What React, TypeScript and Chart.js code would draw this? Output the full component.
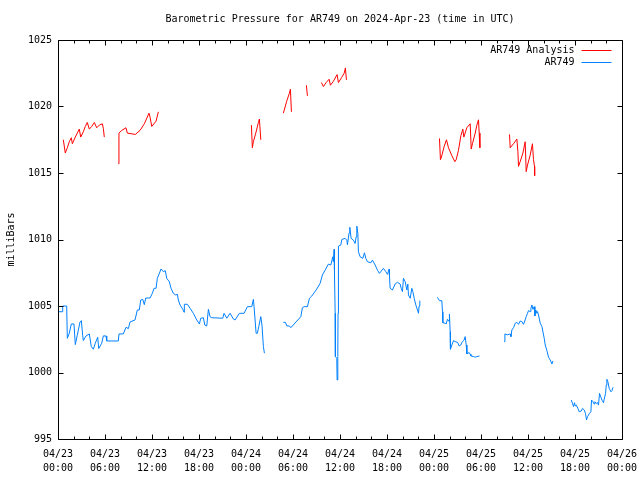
import React, { useEffect, useRef } from 'react';
import { Chart, registerables } from 'chart.js';

Chart.register(...registerables);

const TITLE = 'Barometric Pressure for AR749 on 2024-Apr-23 (time in UTC)';
const Y_LABEL = 'milliBars';
const SERIES_NAMES = ['AR749 Analysis', 'AR749'];
const SERIES_COLORS = ['#ff0000', '#0080ff'];

const X_TICK_DATES = ['04/23', '04/23', '04/23', '04/23', '04/24', '04/24', '04/24', '04/24', '04/25', '04/25', '04/25', '04/25', '04/26'];
const X_TICK_TIMES = ['00:00', '06:00', '12:00', '18:00', '00:00', '06:00', '12:00', '18:00', '00:00', '06:00', '12:00', '18:00', '00:00'];
const Y_TICKS = [995, 1000, 1005, 1010, 1015, 1020, 1025];

// hours since 2024-04-23 00:00 UTC, one inner array per unbroken run
const analysisHours = [
  [0.68, 0.93, 1.19, 1.44, 1.70, 1.83, 2.21, 2.46, 2.72, 2.90, 3.23, 3.49, 3.74, 4.0, 4.30, 4.64, 4.94, 5.27, 5.66, 5.79, 5.91],
  [7.70, 7.78, 8.14, 8.68, 8.85, 9.87, 10.47, 11.02, 11.62, 11.75, 11.97, 12.52, 12.81],
  [24.69, 24.81, 24.94, 25.25, 25.58, 25.71, 25.89],
  [28.77, 29.2, 29.54, 29.67, 29.8],
  [31.71, 31.84],
  [33.63, 33.88, 34.23, 34.61, 34.78, 35.16, 35.63, 35.80, 36.23, 36.53, 36.69, 36.82],
  [48.70, 48.82, 48.95, 49.3, 49.59, 49.85, 50.28, 50.66, 50.83, 51.12, 51.43, 51.68, 51.81, 52.19, 52.62, 52.75, 52.91, 53.26, 53.47, 53.68, 53.77, 53.86],
  [57.64, 57.73, 58.15, 58.58, 58.71, 58.79, 59.0, 59.35, 59.64, 59.77, 59.94, 60.28, 60.57, 60.70, 60.83, 60.85],
];
const analysisValues = [
  [1017.5, 1016.5, 1016.9, 1017.35, 1017.65, 1017.2, 1017.7, 1018.0, 1018.3, 1017.7, 1018.1, 1018.5, 1018.8, 1018.3, 1018.5, 1018.8, 1018.4, 1018.6, 1018.7, 1018.35, 1017.7],
  [1015.7, 1018.0, 1018.2, 1018.4, 1018.0, 1017.9, 1018.2, 1018.7, 1019.5, 1019.2, 1018.5, 1018.9, 1019.6],
  [1018.6, 1016.9, 1017.35, 1018.0, 1018.8, 1019.06, 1017.5],
  [1019.5, 1020.4, 1021.0, 1021.3, 1019.6],
  [1021.6, 1020.8],
  [1021.8, 1021.5, 1021.8, 1022.05, 1021.6, 1021.9, 1022.4, 1021.8, 1022.2, 1022.5, 1022.9, 1022.0],
  [1017.6, 1016.0, 1016.2, 1017.0, 1017.5, 1016.9, 1016.3, 1015.85, 1016.0, 1016.7, 1017.8, 1018.3, 1017.7, 1018.4, 1018.7, 1016.8, 1017.2, 1018.0, 1018.6, 1019.0, 1018.0, 1016.9],
  [1017.9, 1016.9, 1017.2, 1017.55, 1016.6, 1015.5, 1015.85, 1016.5, 1017.35, 1015.1, 1015.6, 1016.35, 1017.2, 1016.0, 1015.5, 1014.8],
];

const ar749Hours = [
  [0.04, 0.6, 0.6, 1.11, 1.19, 1.44, 1.70, 2.04, 2.21, 2.46, 2.81, 2.98, 3.15, 3.23, 3.58, 4.0, 4.25, 4.51, 4.76, 5.07, 5.2, 5.58, 5.79, 6.13, 6.22, 7.70, 7.79, 8.34, 8.68, 8.98, 9.20, 9.83, 10.13, 10.38, 10.56, 10.82, 11.02, 11.2, 11.75, 12.04, 12.26, 12.52, 12.68, 12.9, 13.15, 13.45, 13.70, 13.88, 14.21, 14.43, 14.73, 15.03, 15.24, 15.36, 15.58, 15.93, 16.09, 16.13, 16.51, 16.86, 17.28, 17.71, 18.05, 18.22, 18.56, 18.74, 18.99, 19.2, 19.41, 19.63, 21.03, 21.2, 21.55, 21.97, 22.39, 22.61, 23.15, 23.75, 24.18, 24.74, 24.94, 25.03, 25.29, 25.45, 25.63, 25.89, 26.05, 26.22, 26.35],
  [28.77, 29.03, 29.21, 29.54, 29.72, 31.0, 31.2, 31.42, 31.84, 32.1, 32.4, 33.04, 33.46, 33.75, 34.1, 34.52, 34.83, 35.08, 35.16, 35.25, 35.29, 35.38, 35.41, 35.59, 35.63, 35.72, 35.75, 35.8, 36.1, 36.23, 36.65, 36.87, 36.95, 37.16, 37.25, 37.42, 37.71, 37.93, 38.06, 38.15, 38.28, 38.35, 38.57, 38.91, 39.12, 39.3, 39.5, 39.94, 40.14, 40.49, 40.78, 41.03, 41.54, 41.85, 42.06, 42.27, 42.31, 42.4, 42.69, 43.04, 43.33, 43.68, 43.81, 43.97, 44.10, 44.32, 44.53, 44.66, 44.74, 44.96, 45.17, 45.3, 45.47, 45.68, 45.89, 46.02, 46.1, 46.19],
  [48.44, 48.7, 49.0, 49.08, 49.13, 49.43, 49.55, 49.72, 49.94, 49.97, 50.06, 50.1, 50.28, 50.49, 50.79, 51.0, 51.21, 51.43, 51.56, 51.85, 51.98, 52.11, 52.2, 52.49, 52.62, 52.71, 53.04, 53.26, 53.47, 53.81],
  [56.96, 57.05, 57.38, 57.73, 57.82, 57.94, 58.15, 58.37, 58.58, 58.79, 59.0, 59.22, 59.42, 59.64, 59.77, 59.94, 60.06, 60.28, 60.37, 60.5, 60.63, 60.79, 60.88, 61.0, 61.14, 61.21, 61.34, 61.56, 61.78, 62.07, 62.2, 62.41, 62.62, 62.84, 63.05, 63.18],
  [65.52, 65.68, 65.81, 65.94, 66.03, 66.16, 66.37, 66.54, 66.79, 66.96, 67.18, 67.34, 67.47, 67.6, 67.85, 68.03, 68.11, 68.29, 68.45, 68.54, 68.71, 68.88, 69.0, 69.13, 69.31, 69.48, 69.64, 69.73, 69.9, 69.99, 70.07, 70.2, 70.37, 70.59, 70.72, 70.85],
];
const ar749Values = [
  [1004.57, 1004.57, 1005.0, 1005.0, 1002.57, 1002.95, 1003.65, 1003.65, 1002.1, 1002.8, 1003.8, 1003.9, 1002.8, 1002.4, 1002.75, 1002.9, 1001.95, 1001.75, 1002.2, 1002.65, 1001.8, 1002.2, 1002.75, 1002.75, 1002.37, 1002.37, 1002.9, 1002.9, 1003.4, 1003.3, 1003.8, 1003.95, 1004.7, 1004.7, 1005.45, 1005.5, 1005.1, 1005.6, 1005.6, 1005.95, 1006.33, 1006.33, 1007.08, 1007.4, 1007.78, 1007.58, 1007.65, 1007.08, 1006.83, 1006.33, 1005.95, 1005.83, 1005.88, 1005.45, 1005.08, 1004.75, 1004.53, 1005.13, 1005.13, 1004.83, 1004.45, 1003.95, 1003.65, 1004.08, 1004.12, 1003.57, 1003.5, 1004.75, 1004.2, 1004.12, 1004.08, 1004.45, 1004.08, 1004.45, 1004.02, 1003.95, 1004.45, 1004.45, 1004.95, 1004.95, 1005.5, 1004.95, 1002.95, 1002.95, 1003.45, 1004.2, 1003.5, 1001.95, 1001.45],
  [1003.77, 1003.77, 1003.5, 1003.5, 1003.37, 1004.2, 1004.87, 1004.95, 1004.95, 1005.58, 1005.75, 1006.28, 1006.7, 1007.33, 1007.7, 1008.15, 1008.08, 1008.7, 1008.33, 1009.26, 1007.7, 1004.45, 1001.2, 1001.07, 999.44, 1001.2, 1004.45, 1009.5, 1009.58, 1010.0, 1010.09, 1009.95, 1009.6, 1010.5, 1010.92, 1010.09, 1009.95, 1009.7, 1010.2, 1011.0, 1010.45, 1009.08, 1008.7, 1008.58, 1009.0, 1008.58, 1008.33, 1008.25, 1008.45, 1008.08, 1007.7, 1007.45, 1007.83, 1007.58, 1007.38, 1007.78, 1007.33, 1006.33, 1006.2, 1006.65, 1006.78, 1006.65, 1006.33, 1006.08, 1007.08, 1006.83, 1006.2, 1006.65, 1005.83, 1005.58, 1006.33, 1006.08, 1005.58, 1005.08, 1004.7, 1004.45, 1005.0, 1005.4],
  [1005.65, 1005.4, 1005.4, 1004.57, 1003.75, 1003.7, 1003.65, 1004.0, 1003.83, 1004.4, 1003.07, 1001.75, 1002.07, 1002.4, 1002.3, 1002.27, 1002.0, 1002.07, 1002.27, 1002.44, 1002.7, 1002.07, 1001.4, 1001.5, 1001.37, 1001.24, 1001.2, 1001.15, 1001.2, 1001.24],
  [1002.32, 1002.9, 1002.83, 1002.9, 1002.7, 1003.2, 1003.37, 1003.7, 1003.77, 1003.62, 1003.87, 1003.83, 1003.62, 1003.95, 1004.2, 1004.45, 1004.65, 1004.58, 1004.83, 1005.08, 1004.75, 1004.95, 1004.25, 1004.7, 1004.45, 1004.58, 1004.33, 1003.7, 1003.45, 1002.57, 1002.07, 1001.65, 1001.15, 1000.94, 1000.64, 1000.87],
  [997.93, 997.68, 997.43, 997.73, 997.48, 997.55, 997.3, 997.05, 997.1, 997.3, 997.18, 996.93, 996.43, 996.68, 996.93, 997.05, 997.93, 997.8, 997.63, 997.8, 997.68, 997.73, 997.55, 998.43, 998.13, 997.88, 997.73, 998.0, 998.43, 999.06, 999.49, 999.3, 998.8, 998.55, 998.63, 998.89],
];

const FONT = 'DejaVu Sans Mono';

function toPoints(hours: number[][], values: number[][]) {
  const pts: { x: number; y: number | null }[] = [];
  hours.forEach((run, r) => {
    if (r > 0) pts.push({ x: run[0], y: null });
    run.forEach((h, i) => pts.push({ x: h, y: values[r][i] }));
  });
  return pts;
}

const framePlugin = {
  id: 'gnuFrame',
  afterDraw(chart: any) {
    const { ctx, chartArea: a, scales } = chart;
    const xs = scales.x;
    const ys = scales.y;
    const L = Math.round(a.left) + 0.5;
    const R = Math.round(a.right) + 0.5;
    const T = Math.round(a.top) + 0.5;
    const B = Math.round(a.bottom) + 0.5;
    ctx.save();
    ctx.strokeStyle = '#000';
    ctx.lineWidth = 1;
    ctx.beginPath();
    ctx.rect(L, T, R - L, B - T);
    for (let h = 0; h <= 72; h += 2) {
      const tick = h % 6 === 0 ? 5 : 3;
      const px = Math.round(xs.getPixelForValue(h)) + 0.5;
      ctx.moveTo(px, B); ctx.lineTo(px, B - tick);
      ctx.moveTo(px, T); ctx.lineTo(px, T + tick);
    }
    Y_TICKS.forEach((v) => {
      const py = Math.round(ys.getPixelForValue(v)) + 0.5;
      ctx.moveTo(L, py); ctx.lineTo(L + 5, py);
      ctx.moveTo(R, py); ctx.lineTo(R - 5, py);
    });
    ctx.stroke();

    // legend, gnuplot style: right aligned text, sample line to its right
    ctx.font = `10px "${FONT}"`;
    ctx.textAlign = 'right';
    ctx.textBaseline = 'middle';
    SERIES_NAMES.forEach((name, i) => {
      const y = Math.round(a.top) + 10 + i * 12;
      ctx.fillStyle = '#000';
      ctx.fillText(name, R - 48, y);
      ctx.strokeStyle = SERIES_COLORS[i];
      ctx.beginPath();
      ctx.moveTo(R - 41, y + 0.5);
      ctx.lineTo(R - 11, y + 0.5);
      ctx.stroke();
    });
    ctx.restore();
  },
};

export default function App() {
  const ref = useRef<HTMLCanvasElement | null>(null);
  useEffect(() => {
    if (!ref.current) return;
    const chart = new Chart(ref.current, {
      type: 'line',
      data: {
        datasets: [
          {
            label: SERIES_NAMES[0],
            data: toPoints(analysisHours, analysisValues),
            borderColor: SERIES_COLORS[0],
            backgroundColor: SERIES_COLORS[0],
            borderWidth: 1,
            pointRadius: 0,
            tension: 0,
            spanGaps: false,
          },
          {
            label: SERIES_NAMES[1],
            data: toPoints(ar749Hours, ar749Values),
            borderColor: SERIES_COLORS[1],
            backgroundColor: SERIES_COLORS[1],
            borderWidth: 1,
            pointRadius: 0,
            tension: 0,
            spanGaps: false,
          },
        ],
      },
      options: {
        responsive: false,
        animation: false,
        parsing: false as any,
        normalized: true,
        layout: { padding: { left: 0, right: 18, top: 0, bottom: 0 } },
        plugins: {
          legend: { display: false },
          tooltip: { enabled: false },
          title: {
            display: true,
            text: TITLE,
            fullSize: false,
            color: '#000',
            font: { family: FONT, size: 10, weight: 'normal' as any, lineHeight: 1.2 },
            padding: { top: 13, bottom: 15 },
          },
        },
        scales: {
          x: {
            type: 'linear',
            min: 0,
            max: 72,
            grid: { display: false, drawTicks: false },
            border: { display: false },
            ticks: {
              stepSize: 6,
              autoSkip: false,
              maxRotation: 0,
              minRotation: 0,
              padding: 8,
              color: '#000',
              font: { family: FONT, size: 10, lineHeight: 1.4 },
              callback: (_v: any, i: number) => [X_TICK_DATES[i], X_TICK_TIMES[i]],
            },
            afterFit: (s: any) => { s.height = 41; s.paddingLeft = 0; s.paddingRight = 0; },
          },
          y: {
            type: 'linear',
            min: 995,
            max: 1025,
            grid: { display: false, drawTicks: false },
            border: { display: false },
            ticks: {
              stepSize: 5,
              padding: 6,
              color: '#000',
              font: { family: FONT, size: 10 },
              callback: (v: any) => String(v),
            },
            title: {
              display: true,
              text: Y_LABEL,
              color: '#000',
              font: { family: FONT, size: 10, lineHeight: 1.2 },
              padding: { top: 5, bottom: 0 },
            },
            afterFit: (s: any) => { s.width = 58; s.paddingTop = 0; s.paddingBottom = 0; },
          },
        },
      },
      plugins: [framePlugin],
    });
    return () => chart.destroy();
  }, []);
  return (
    <div style={{ position: 'fixed', left: 0, top: 0, width: 640, height: 480, background: '#fff' }}>
      <canvas ref={ref} width={640} height={480} style={{ width: 640, height: 480, display: 'block' }} />
    </div>
  );
}
